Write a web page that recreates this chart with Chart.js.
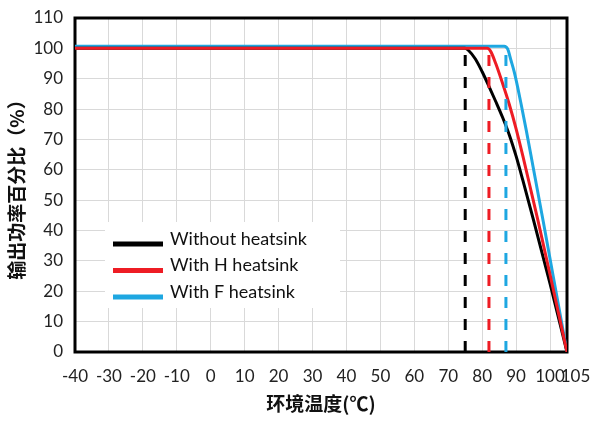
<!DOCTYPE html>
<html>
<head>
<meta charset="utf-8">
<script src="https://cdn.jsdelivr.net/npm/chart.js@4.4.1/dist/chart.umd.min.js"></script>
<style>
  html, body { margin: 0; padding: 0; background: #fff; }
  #wrap { width: 598px; height: 421px; }
</style>
</head>
<body>
<div id="wrap"><canvas id="graficoDerating" width="598" height="421"></canvas></div>
<script>
  // Curvas de derating: temperatura ambiente (°C) x potência de saída (%)
  const xTicks = [-40, -30, -20, -10, 0, 10, 20, 30, 40, 50, 60, 70, 80, 90, 100, 105];

  const semDissipadorTemp = [-40, 75, 76, 78, 80, 82, 84, 86, 88, 90, 92, 95, 100, 105];
  const semDissipadorPct = [100, 100, 99.3, 96.5, 92.3, 87.5, 82.5, 77.3, 71.5, 64.5, 56.5, 44, 22.5, 0];

  const dissipadorHTemp = [-40, 81.5, 82.5, 84, 86, 88, 90, 92, 94, 96.5, 100, 105];
  const dissipadorHPct = [100, 100, 99, 95, 88.5, 81.5, 73.5, 64.5, 55, 43, 25.5, 0];

  const dissipadorFTemp = [-40, 86.5, 87.5, 88.5, 89.5, 90.5, 91.5, 93, 95, 98, 101, 105];
  const dissipadorFPct = [100.7, 100.7, 99.8, 96, 92, 87, 81.5, 73, 61, 43, 24.5, 0];

  // temperatura onde começa o derating de cada curva (linhas tracejadas)
  const inicioDerating = [75, 82, 87];
  const nomes = ["Without heatsink", "With H heatsink", "With F heatsink"];
  const cores = ["#000000", "#ee1c24", "#1ea7e1"];

  const fonteTexto = "Lato, 'Open Sans', sans-serif";
  const fonteCJK = "'Noto Sans CJK SC', sans-serif";

  function pontos(xs, ys) {
    return xs.map((x, i) => ({ x: x, y: ys[i] }));
  }

  function curva(i, xs, ys, ordem) {
    return {
      label: nomes[i],
      legenda: i,
      data: pontos(xs, ys),
      borderColor: cores[i],
      backgroundColor: cores[i],
      borderWidth: 3,
      pointRadius: 0,
      cubicInterpolationMode: "monotone",
      order: ordem,
    };
  }

  function tracejada(i) {
    return {
      label: nomes[i] + " limite",
      data: [{ x: inicioDerating[i], y: 0 }, { x: inicioDerating[i], y: 100 }],
      borderColor: cores[i],
      borderWidth: 3,
      borderDash: [11, 11],
      pointRadius: 0,
      order: 0,
    };
  }

  // moldura preta em volta da área do gráfico
  const moldura = {
    id: "moldura",
    beforeDatasetsDraw(chart) {
      const a = chart.chartArea;
      const ctx = chart.ctx;
      ctx.save();
      ctx.strokeStyle = "#000";
      ctx.lineWidth = 3;
      ctx.strokeRect(a.left, a.top, a.right - a.left, a.bottom - a.top);
      ctx.restore();
    },
  };

  // legenda dentro da área do gráfico, com fundo branco
  const legendaInterna = {
    id: "legendaInterna",
    afterDatasetsDraw(chart) {
      const a = chart.chartArea;
      const ctx = chart.ctx;
      const itens = chart.data.datasets
        .filter((d) => d.legenda !== undefined)
        .sort((p, q) => p.legenda - q.legenda);
      ctx.save();
      ctx.fillStyle = "#fff";
      ctx.fillRect(a.left + 30, a.top + 204, 235, 86);
      ctx.font = "18px " + fonteTexto;
      ctx.textBaseline = "middle";
      ctx.textAlign = "left";
      itens.forEach((d, i) => {
        const y = a.top + 222 + i * 26.5;
        ctx.strokeStyle = d.borderColor;
        ctx.lineWidth = 5;
        ctx.beginPath();
        ctx.moveTo(a.left + 38, y + 4);
        ctx.lineTo(a.left + 88, y + 4);
        ctx.stroke();
        ctx.fillStyle = "#111";
        ctx.fillText(d.label, a.left + 95, y - 1);
      });
      ctx.restore();
    },
  };

  new Chart(document.getElementById("graficoDerating").getContext("2d"), {
    type: "line",
    data: {
      datasets: [
        curva(2, dissipadorFTemp, dissipadorFPct, 3),
        curva(0, semDissipadorTemp, semDissipadorPct, 2),
        curva(1, dissipadorHTemp, dissipadorHPct, 1),
        tracejada(0),
        tracejada(1),
        tracejada(2),
      ],
    },
    options: {
      responsive: false,
      animation: false,
      layout: { padding: { top: 18, right: 31, left: 0, bottom: 0 } },
      plugins: {
        legend: { display: false },
        tooltip: { enabled: false },
      },
      scales: {
        x: {
          type: "linear",
          min: -40,
          max: 105,
          afterBuildTicks(scale) {
            scale.ticks = xTicks.map((v) => ({ value: v }));
          },
          // altura fixa do eixo e sem folga extra para os rótulos das pontas
          afterFit(scale) {
            scale.height = 69;
            scale.paddingLeft = 0;
            scale.paddingRight = 0;
          },
          grid: { color: "#d9d9d9", lineWidth: 1, drawTicks: false },
          border: { display: false },
          ticks: {
            autoSkip: false,
            maxRotation: 0,
            padding: 14,
            color: "#222",
            font: { family: fonteTexto, size: 17 },
            callback: (v) => (v === 105 ? "\u2002\u2002105" : String(v)),
          },
          title: {
            display: true,
            text: "环境温度(℃)",
            color: "#111",
            font: { family: fonteCJK, size: 19, weight: "bold" },
            padding: { top: 0, bottom: 6 },
          },
        },
        y: {
          min: 0,
          max: 110,
          afterFit(scale) {
            scale.width = 75;
            scale.paddingTop = 0;
            scale.paddingBottom = 0;
          },
          grid: { color: "#d9d9d9", lineWidth: 1, drawTicks: false },
          border: { display: false },
          ticks: {
            stepSize: 10,
            padding: 12,
            color: "#222",
            font: { family: fonteTexto, size: 17 },
          },
          title: {
            display: true,
            text: "输出功率百分比（%）",
            color: "#111",
            font: { family: fonteCJK, size: 19, weight: "bold" },
            padding: { top: 5, bottom: 0 },
          },
        },
      },
    },
    plugins: [moldura, legendaInterna],
  });
</script>
</body>
</html>
